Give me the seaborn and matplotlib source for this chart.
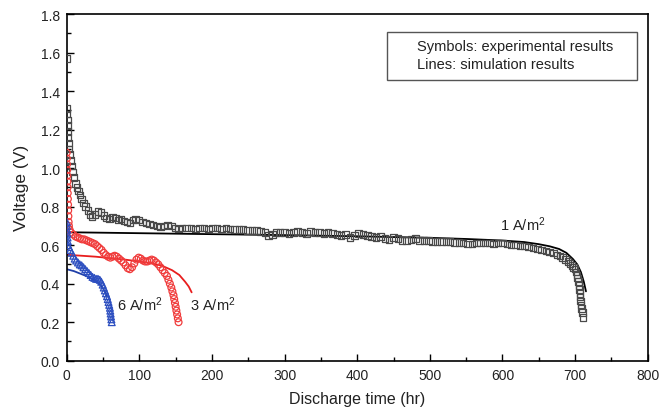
import matplotlib
matplotlib.use("Agg")
import matplotlib.pyplot as plt
import seaborn as sns
from matplotlib import font_manager
from matplotlib.patches import Rectangle
from matplotlib.ticker import MultipleLocator

# ---------------- data ----------------
# 1 A/m2 experimental (symbols)
t1_exp = [0, 0.3, 0.6, 0.9, 1.2, 1.5, 2, 2.5, 3, 4, 5, 6.5, 8, 10, 12, 14, 16, 18, 20, 23,
          26, 29, 32, 35, 39, 43, 47, 51, 55, 59, 63, 67, 71, 75, 79, 83, 87, 91, 95, 99,
          104, 109, 114, 119, 124, 129, 134, 139, 144, 149, 154, 159, 165, 171, 177, 183, 189, 195, 201, 207,
          213, 219, 225, 231, 237, 243, 249, 255, 261, 267, 273, 278, 283, 288, 294, 300, 306, 312, 318, 324,
          330, 336, 342, 348, 354, 360, 366, 372, 378, 384, 390, 396, 402, 408, 414, 420, 426, 432, 438, 444,
          450, 456, 462, 468, 474, 480, 486, 492, 498, 504, 510, 516, 522, 528, 534, 540, 546, 552, 558, 564,
          570, 576, 582, 588, 594, 600, 606, 612, 618, 624, 630, 636, 642, 648, 654, 660, 665, 670, 675, 679,
          683, 687, 690, 693, 696, 698, 700, 701.5, 702.5, 703.5, 704.5, 705.5, 706, 706.5, 707, 707.5, 708, 709, 710, 711]
v1_exp = [1.57, 1.31, 1.28, 1.25, 1.22, 1.19, 1.16, 1.13, 1.10, 1.07, 1.04, 1.01, 0.98, 0.95, 0.92, 0.90, 0.88, 0.86, 0.84, 0.82,
          0.80, 0.78, 0.76, 0.75, 0.76, 0.775, 0.77, 0.755, 0.74, 0.735, 0.745, 0.74, 0.73, 0.735, 0.725, 0.72, 0.715, 0.73, 0.735, 0.73,
          0.72, 0.715, 0.71, 0.705, 0.70, 0.695, 0.70, 0.705, 0.70, 0.69, 0.685, 0.69, 0.69, 0.69, 0.685, 0.69, 0.69, 0.685, 0.69, 0.69,
          0.685, 0.69, 0.685, 0.68, 0.68, 0.68, 0.675, 0.675, 0.675, 0.67, 0.665, 0.65, 0.655, 0.665, 0.665, 0.665, 0.66, 0.665, 0.67, 0.665,
          0.66, 0.67, 0.665, 0.665, 0.66, 0.665, 0.66, 0.655, 0.65, 0.655, 0.64, 0.65, 0.66, 0.655, 0.65, 0.645, 0.64, 0.645, 0.635, 0.63,
          0.64, 0.635, 0.625, 0.625, 0.63, 0.635, 0.625, 0.625, 0.625, 0.62, 0.62, 0.62, 0.62, 0.62, 0.615, 0.615, 0.61, 0.605, 0.605, 0.61,
          0.61, 0.61, 0.61, 0.605, 0.61, 0.61, 0.605, 0.60, 0.60, 0.595, 0.595, 0.59, 0.585, 0.58, 0.575, 0.57, 0.565, 0.558, 0.55, 0.543,
          0.535, 0.525, 0.515, 0.505, 0.495, 0.485, 0.475, 0.46, 0.445, 0.43, 0.41, 0.39, 0.37, 0.35, 0.33, 0.31, 0.29, 0.27, 0.25, 0.225]

# 3 A/m2 experimental
t3_exp = [0, 0.2, 0.4, 0.6, 0.8, 1.0, 1.2, 1.4, 1.6, 1.8, 2.0, 2.3, 2.6, 3.0,
          4, 6, 9, 12, 15, 18, 21, 24, 27, 30, 33, 36, 39, 42, 45, 48, 51, 54, 57, 60,
          63, 66, 69, 72, 75, 78, 81, 84, 87, 90, 93, 96, 99, 102, 105, 108, 111, 114, 117, 120,
          123, 126, 129, 132, 135, 138, 140, 142, 144, 145.5, 147, 148, 149, 150, 151, 152, 153, 154]
v3_exp = [1.08, 1.05, 1.02, 0.99, 0.96, 0.93, 0.90, 0.87, 0.84, 0.81, 0.78, 0.75, 0.72, 0.70,
          0.68, 0.665, 0.655, 0.645, 0.64, 0.635, 0.63, 0.63, 0.625, 0.62, 0.615, 0.61, 0.605, 0.595, 0.585, 0.575, 0.56, 0.548, 0.54, 0.535,
          0.54, 0.545, 0.54, 0.53, 0.52, 0.51, 0.495, 0.48, 0.475, 0.485, 0.505, 0.525, 0.535, 0.53, 0.52, 0.515, 0.515, 0.52, 0.525, 0.52,
          0.51, 0.50, 0.485, 0.47, 0.455, 0.44, 0.42, 0.40, 0.38, 0.36, 0.34, 0.32, 0.30, 0.28, 0.26, 0.24, 0.22, 0.20]

# 6 A/m2 experimental
t6_exp = [0, 0.3, 0.6, 0.9, 1.2, 1.6, 2.0, 3, 5, 7, 9, 11, 13, 15.5, 18, 20.5, 23, 25.5, 28, 30.5,
          33, 35.5, 38, 40.5, 43, 45.5, 47.5, 49.5, 51, 52.5, 54, 55.5, 56.5, 57.5, 58.5, 59.5, 60, 60.5, 61, 61.5, 62]
v6_exp = [0.72, 0.70, 0.68, 0.66, 0.64, 0.62, 0.60, 0.59, 0.575, 0.56, 0.545, 0.53, 0.52, 0.51, 0.50, 0.495, 0.485, 0.475, 0.465, 0.455,
          0.445, 0.435, 0.43, 0.425, 0.425, 0.42, 0.41, 0.395, 0.38, 0.365, 0.35, 0.335, 0.32, 0.305, 0.29, 0.275, 0.26, 0.245, 0.23, 0.215, 0.20]

# simulation lines
t1_sim = [0, 100, 200, 300, 400, 500, 550, 600, 630, 650, 665, 678, 688, 697, 703, 708, 712, 715]
v1_sim = [0.667, 0.662, 0.657, 0.652, 0.646, 0.638, 0.632, 0.624, 0.616, 0.605, 0.594, 0.58, 0.56, 0.528, 0.50, 0.46, 0.41, 0.36]
t3_sim = [0, 40, 80, 110, 130, 145, 155, 163, 168, 172]
v3_sim = [0.55, 0.54, 0.525, 0.51, 0.495, 0.47, 0.445, 0.41, 0.385, 0.355]
t6_sim = [0, 10, 20, 30, 40, 46, 50, 53, 55.5]
v6_sim = [0.475, 0.465, 0.45, 0.435, 0.415, 0.395, 0.375, 0.355, 0.335]

labels = ["1 A/m$^2$", "3 A/m$^2$", "6 A/m$^2$"]
label_pos = [(596, 0.71), (170, 0.294), (69, 0.294)]
x_ticks = [0, 100, 200, 300, 400, 500, 600, 700, 800]
y_ticks = [0.0, 0.2, 0.4, 0.6, 0.8, 1.0, 1.2, 1.4, 1.6, 1.8]
box_lines = ["Symbols: experimental results", "Lines: simulation results"]

# ---------------- style ----------------
sns.set_style("white")
names = {f.name for f in font_manager.fontManager.ttflist}
base = "Liberation Sans" if "Liberation Sans" in names else "DejaVu Sans"
plt.rcParams["font.family"] = [base, "DejaVu Sans"]
plt.rcParams["mathtext.fontset"] = "custom"
plt.rcParams["mathtext.rm"] = base
plt.rcParams["mathtext.it"] = base

fig = plt.figure(figsize=(6.62, 4.10), dpi=100)
ax = fig.add_axes([0.1008, 0.1178, 0.8776, 0.8456])

blk, red, blu = "#4a4a4a", "#f03c3c", "#2d4fc0"
sns.lineplot(x=t1_sim, y=v1_sim, ax=ax, color="black", lw=1.3, sort=False)
sns.lineplot(x=t3_sim, y=v3_sim, ax=ax, color="#e81e1e", lw=1.3, sort=False)
sns.lineplot(x=t6_sim, y=v6_sim, ax=ax, color="#1f3fa8", lw=1.3, sort=False)

sns.scatterplot(x=t1_exp, y=v1_exp, ax=ax, marker="s", s=22, facecolors="none",
                edgecolors=blk, linewidths=0.9, zorder=3)
sns.scatterplot(x=t3_exp, y=v3_exp, ax=ax, marker="o", s=24, facecolors="none",
                edgecolors=red, linewidths=0.9, zorder=3)
sns.scatterplot(x=t6_exp, y=v6_exp, ax=ax, marker="^", s=24, facecolors="none",
                edgecolors=blu, linewidths=0.9, zorder=3)

ax.set_xlim(0, 800)
ax.set_ylim(0, 1.8)
ax.set_xticks(x_ticks)
ax.set_yticks(y_ticks)
ax.set_xticklabels([str(v) for v in x_ticks])
ax.set_yticklabels([f"{v:.1f}" for v in y_ticks])
ax.xaxis.set_minor_locator(MultipleLocator(50))
ax.yaxis.set_minor_locator(MultipleLocator(0.1))
ax.tick_params(which="both", direction="in", bottom=True, left=True, top=False, right=False,
               labelsize=10, color="black", width=1.0, labelcolor="#222222")
ax.tick_params(which="major", length=5, pad=5)
ax.tick_params(which="minor", length=3)
for sp in ax.spines.values():
    sp.set_color("black")
    sp.set_linewidth(1.2)

ax.set_xlabel("Discharge time (hr)", fontsize=11.5, labelpad=7, color="#222222")
ax.set_ylabel("Voltage (V)", fontsize=12.5, labelpad=8, color="#222222")

for lab, (x, y) in zip(labels, label_pos):
    ax.text(x, y, lab, fontsize=10.5, va="center", ha="left", color="#222222")

ax.add_patch(Rectangle((0.551, 0.8096), 0.4306, 0.1384, transform=ax.transAxes,
                       fill=False, edgecolor="#555555", lw=1.0, zorder=4))
ax.text(0.603, 0.9077, box_lines[0], transform=ax.transAxes, fontsize=10.5, va="center", ha="left", color="#222222")
ax.text(0.603, 0.8558, box_lines[1], transform=ax.transAxes, fontsize=10.5, va="center", ha="left", color="#222222")

fig.savefig("out.png", dpi=100)
